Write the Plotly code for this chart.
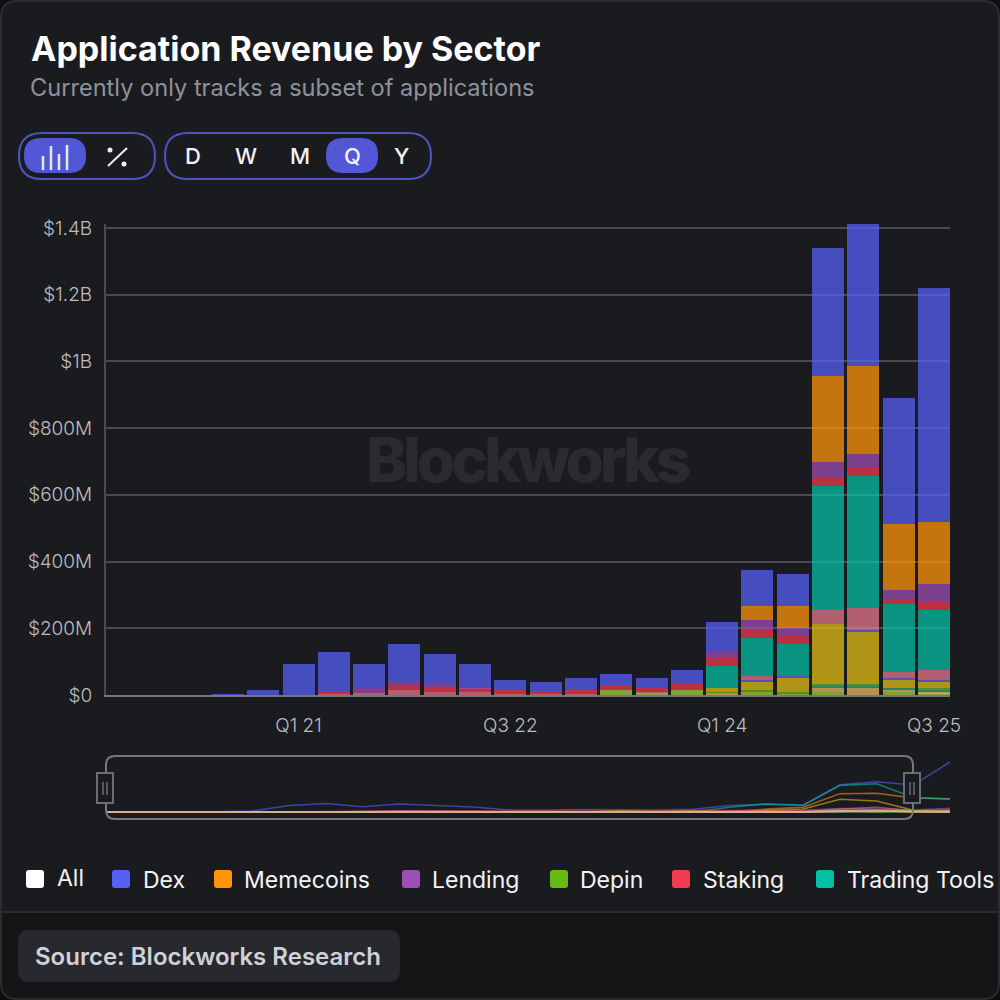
import plotly.graph_objects as go

quarters = ["Q4 19","Q1 20","Q2 20","Q3 20","Q4 20","Q1 21","Q2 21","Q3 21","Q4 21","Q1 22","Q2 22","Q3 22",
            "Q4 22","Q1 23","Q2 23","Q3 23","Q4 23","Q1 24","Q2 24","Q3 24","Q4 24","Q1 25","Q2 25","Q3 25"]
x_tick_labels = ["Q1 21","Q3 22","Q1 24","Q3 25"]
y_tick_vals = [0,200,400,600,800,1000,1200,1400]
y_tick_text = ["$0","$200M","$400M","$600M","$800M","$1B","$1.2B","$1.4B"]

# values in $M
dex       = [0,0,0,3,15,93,118,73,114,90,69,30,27,35,33,29,40,90,108,96,384,426,378,702]
memecoins = [0,0,0,0,0,0,0,0,0,0,0,0,0,0,0,0,0,0,42,66,258,264,198,186]
lending   = [0,0,0,0,0,0,0,15,12,12,2,0,0,0,0,0,0,18,28,24,48,42,30,54]
staking   = [0,0,0,0,0,0,8,0,11,11,13,11,8,12,16,13,20,23,26,24,24,24,12,24]
trading   = [0,0,0,0,0,0,0,0,0,0,0,0,0,0,0,0,0,68,114,96,372,396,204,180]
pink_s    = [0,0,0,0,0,0,3,5,16,10,9,4,4,4,0,4,0,0,12,0,42,66,18,30]
violet_s  = [0,0,0,0,0,0,0,0,0,0,0,0,0,0,0,0,0,0,6,6,0,6,6,6]
gold_s    = [0,0,0,0,0,0,0,0,0,0,0,0,0,0,0,0,0,10,24,42,180,156,24,18]
depin     = [0,0,0,0,0,0,0,0,0,0,0,0,0,0,0,0,0,5,6,6,6,6,0,6]
teal_s    = [0,0,0,0,0,0,0,0,0,0,0,0,0,0,0,0,0,0,0,0,6,6,6,6]
tan_s     = [0,0,0,0,0,0,0,0,0,0,0,0,0,0,0,0,0,5,0,0,12,21,6,3]
lime_s    = [0,0,0,0,0,0,0,0,0,0,0,0,0,0,14,5,15,0,9,3,9,0,9,6]

stack = [  # bottom to top
    ("Other 1", lime_s, "#AACD3C"),
    ("Other 2", tan_s, "#EBB964"),
    ("Other 3", teal_s, "#28AA82"),
    ("Depin", depin, "#67BB14"),
    ("Other 4", gold_s, "#E1BE14"),
    ("Other 5", violet_s, "#6E64F0"),
    ("Other 6", pink_s, "#E6788C"),
    ("Trading Tools", trading, "#05BFA5"),
    ("Staking", staking, "#F23A50"),
    ("Lending", lending, "#9C4FB5"),
    ("Memecoins", memecoins, "#FF9408"),
    ("Dex", dex, "#5660F5"),
]
mini_order = ["Dex","Memecoins","Other 4","Trading Tools","Lending","Staking","Other 6","Other 5","Depin","Other 3","Other 1","Other 2"]
legend_items = [("All","#FFFFFF",26,57,878),("Dex","#5660F5",112,143,880),("Memecoins","#FF9408",214,244,880),
                ("Lending","#9C4FB5",402,432,880),("Depin","#67BB14",550,580,880),("Staking","#F23A50",672,703,880),
                ("Trading Tools","#05BFA5",816,847,880)]

BG = "#1A1B1F"; FOOT = "#151517"; EDGE = "#2B2C30"; BTN = "#4F55BE"; ACTIVE = "#5257D6"
FONT = "Inter"
px = lambda v: v/1000
py = lambda v: 1-v/1000

def rrect(x0, y0, x1, y1, r, tl=True, tr=True, br=True, bl=True):
    X0,X1,Y0,Y1 = px(x0),px(x1),py(y0),py(y1)
    R = r/1000
    d = f"M {X0+(R if tl else 0)} {Y0} L {X1-(R if tr else 0)} {Y0} "
    if tr: d += f"Q {X1} {Y0} {X1} {Y0-R} "
    d += f"L {X1} {Y1+(R if br else 0)} "
    if br: d += f"Q {X1} {Y1} {X1-R} {Y1} "
    d += f"L {X0+(R if bl else 0)} {Y1} "
    if bl: d += f"Q {X0} {Y1} {X0} {Y1+R} "
    d += f"L {X0} {Y0-(R if tl else 0)} "
    if tl: d += f"Q {X0} {Y0} {X0+R} {Y0} "
    return d + "Z"

def box(x0,y0,x1,y1,r,fill="rgba(0,0,0,0)",line=None,w=0,layer="below",**k):
    return dict(type="path",xref="paper",yref="paper",path=rrect(x0,y0,x1,y1,r,**k),fillcolor=fill,
                line=dict(color=line or "rgba(0,0,0,0)",width=w),layer=layer)
def seg(x0,y0,x1,y1,c,w,layer="above"):
    return dict(type="line",xref="paper",yref="paper",x0=px(x0),y0=py(y0),x1=px(x1),y1=py(y1),
                line=dict(color=c,width=w),layer=layer)
def dot(cx,cy,r,c):
    return dict(type="circle",xref="paper",yref="paper",x0=px(cx-r),x1=px(cx+r),y0=py(cy-r),y1=py(cy+r),
                fillcolor=c,line=dict(width=0),layer="above")
def text(t,x,y,size,color,weight=400,anchor="left",family=FONT):
    dx = -2.5 if anchor=="left" else 0
    return dict(text=t,xref="paper",yref="paper",x=px(x+dx),y=py(y),xanchor=anchor,yanchor="middle",showarrow=False,
                font=dict(family=family,size=size,color=color,weight=weight))

fig = go.Figure()
for name, vals, col in stack:
    fig.add_bar(x=quarters,y=vals,name=name,marker=dict(color=col,opacity=0.75,line=dict(width=0)),showlegend=False)
by_name = {n:(v,c) for n,v,c in stack}
for name in mini_order:
    vals, col = by_name[name]
    is_base = name == "Other 2"
    fig.add_scatter(x=quarters,y=vals,xaxis="x2",yaxis="y2",mode="lines",name=name,showlegend=False,
                    line=dict(color="#DDB08E" if is_base else col,width=2.2 if is_base else 1.5),opacity=0.95 if is_base else 0.6)

shapes = [
    box(1,1,999,999,16,fill=BG,line=EDGE,w=2),
    box(2,913,998,998,15,fill=FOOT,tl=False,tr=False),
    seg(2,912,998,912,EDGE,2,"below"),
    box(18,930,400,982,12,fill="#28292E"),
    box(19,133,155,179,23,line=BTN,w=2),
    box(24,138,86,173,17,fill=ACTIVE),
    box(165,133,431,179,23,line=BTN,w=2),
    box(326,138,378,173,17,fill=ACTIVE),
    seg(43,170,43,156,"#E8E8F4",2.5), seg(51,170,51,146,"#E8E8F4",2.5),
    seg(59,170,59,154,"#E8E8F4",2.5), seg(67,170,67,145,"#E8E8F4",2.5),
    seg(108,166,127,148,"#F0F0F0",2), dot(110,150,2.5,"#F0F0F0"), dot(124,164,2.5,"#F0F0F0"),
    box(106,756,913,819,9,line="#77787D",w=2,layer="above"),
]
for hx in (105,912):
    shapes += [dict(type="rect",xref="paper",yref="paper",x0=px(hx-8),x1=px(hx+8),y0=py(773),y1=py(803),
                    fillcolor=BG,line=dict(color="#6B6D73",width=2),layer="above"),
               seg(hx-2,782,hx-2,795,"#6B6D73",1.5), seg(hx+2,782,hx+2,795,"#6B6D73",1.5)]

annotations = [
    text("Application Revenue by Sector",31,48,34,"#FFFFFF",700),
    text("Currently only tracks a subset of applications",30,88,23.6,"#8E929C"),
    text("Blockworks",526,459,62,"#2A2B2F",800,"center"),
    text("Source: Blockworks Research",35,956,24,"#D0D1D6",600),
]
for t,x in (("D",193),("W",246),("M",300),("Q",352),("Y",401)):
    annotations.append(text(t,x,156,22,"#F2F2F6",500,"center"))
for label,col,sx,tx,ty in legend_items:
    shapes.append(box(sx,870,sx+18,888,3,fill=col))
    annotations.append(text(label,tx,ty,23,"#F4F4F6"))

TICK = dict(family=FONT,size=19,color="#BDBEC3",weight=300)
fig.update_layout(
    width=1000,height=1000,margin=dict(l=0,r=0,t=0,b=0,autoexpand=False),autosize=False,
    paper_bgcolor="#0E0E10",plot_bgcolor="rgba(0,0,0,0)",
    barmode="stack",bargap=0.093,showlegend=False,
    shapes=shapes,annotations=annotations,font=dict(family=FONT),
    xaxis=dict(domain=[0.106,0.95],type="category",categoryorder="array",categoryarray=quarters,automargin=False,
               range=[-0.453,23.453],tickmode="array",tickvals=x_tick_labels,ticktext=x_tick_labels,
               ticks="outside",ticklen=12,tickcolor="rgba(0,0,0,0)",tickfont=TICK,
               showgrid=False,showline=True,linecolor="#77787D",linewidth=2,zeroline=False,tickangle=0),
    yaxis=dict(domain=[py(695),py(223.5)],range=[0,471.5/0.3336],tickmode="array",tickvals=y_tick_vals,ticktext=y_tick_text,
               automargin=False,ticks="outside",ticklen=8,tickcolor="rgba(0,0,0,0)",tickfont=TICK,
               showgrid=True,gridcolor="#4A4B50",gridwidth=2,zeroline=False,showline=True,linecolor="#4A4B50",linewidth=2),
    xaxis2=dict(domain=[0.106,0.95],anchor="y2",type="category",categoryorder="array",categoryarray=quarters,
                range=[0,23],visible=False,automargin=False),
    yaxis2=dict(domain=[py(819),py(756)],anchor="x2",range=[-98,786],visible=False,automargin=False),
)
fig.write_html("out.html",config=dict(displayModeBar=False),post_script="""
document.body.style.margin='0';document.body.style.overflow='hidden';
document.querySelectorAll('.annotation-text').forEach(function(t){
  if(t.textContent==='Blockworks'){t.style.letterSpacing='-4px';}
});
""")
